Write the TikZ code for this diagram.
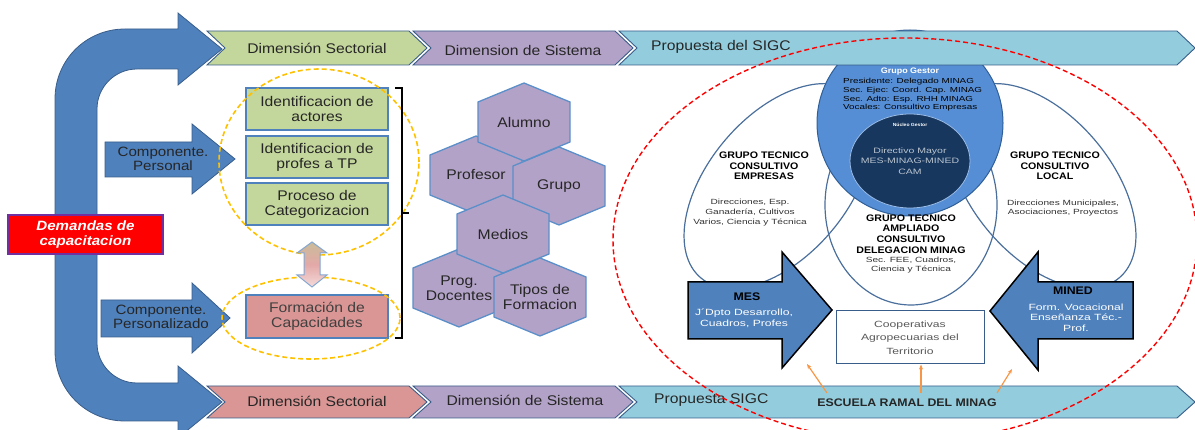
\documentclass[tikz,border=0pt]{standalone}
\usepackage{fontspec}
\setmainfont{Liberation Sans}[FakeStretch=1.12]
\newfontfamily\widefont{Liberation Sans}[FakeStretch=1.35]
\usetikzlibrary{shapes.geometric,arrows.meta}
\definecolor{arrblue}{HTML}{4F81BD}
\definecolor{arrborder}{HTML}{385D8A}
\definecolor{bgreen}{HTML}{C3D69B}
\definecolor{bpurple}{HTML}{B3A2C7}
\definecolor{bcyan}{HTML}{93CDDD}
\definecolor{bpink}{HTML}{D99694}
\definecolor{gestorc}{HTML}{558ED5}
\definecolor{gborder}{HTML}{2F5F98}
\definecolor{navyc}{HTML}{17375E}
\definecolor{vennc}{HTML}{4A6F9C}
\definecolor{ydash}{HTML}{FFC000}
\definecolor{rdash}{HTML}{FF0000}
\definecolor{orangeA}{HTML}{F79646}
\definecolor{dbox}{HTML}{7030A0}
\definecolor{hexborder}{HTML}{5B8FC9}
\definecolor{dtan}{HTML}{C9BC98}
\definecolor{dpinkm}{HTML}{E3A9A8}
\definecolor{dpinkb}{HTML}{F4DADA}
\newcommand\fs[2]{\fontsize{#1}{#2}\selectfont}
\newcommand\chevpath[5]{\path[#1] (#2,#4) -- (#3,#4) -- ({#3+18},{(#4+#5)/2}) -- (#3,#5) -- (#2,#5) -- ({#2+18},{(#4+#5)/2}) -- cycle;}
\newcommand\hexcell[4]{\path[hexa] ({#2-46},{#3-20}) -- (#2,{#3-39}) -- ({#2+46},{#3-20}) -- ({#2+46},{#3+20}) -- (#2,{#3+39}) -- ({#2-46},{#3+20}) -- cycle;
  \node[hextext] (#1) at (#2,#3) {#4};}
\begin{document}
\begin{tikzpicture}[x=1pt,y=-1pt,
  banner/.style={draw=arrborder,line width=0.9pt},
  btext/.style={font=\fs{14}{16},text=black!85,inner sep=0pt},
  bigarrow/.style={fill=arrblue,draw=arrborder,line width=0.8pt},
  comptext/.style={font=\fs{13.5}{14},align=center,text=black!85,inner sep=0pt},
  gbox/.style={draw=arrblue,line width=1.5pt,fill=bgreen,minimum width=142pt,minimum height=42pt,align=center,font=\fs{14}{15},text=black!85,inner sep=0pt},
  hexa/.style={fill=bpurple,draw=hexborder,line width=1.3pt},
  hextext/.style={font=\fs{14}{15},align=center,text=black!85,inner sep=0pt},
  ydashed/.style={draw=ydash,line width=1.6pt,dash pattern=on 5pt off 3pt},
  vennE/.style={ellipse,draw=vennc,line width=1.2pt,inner sep=0pt},
  vhead/.style={font=\bfseries\fs{9.5}{10.7},align=center,text=black,inner sep=0pt},
  vdesc/.style={font=\widefont\fs{7.5}{9.7},align=center,text=black!80,inner sep=0pt},
  bluearrow/.style={fill=arrblue,draw=black,line width=1.5pt},
  wtext/.style={font=\widefont\fs{9}{10.5},align=center,text=white,inner sep=0pt},
  oarrow/.style={draw=orangeA,line width=1.2pt,-{Stealth[length=5pt,width=4pt]}}
]
\useasboundingbox (0,0) rectangle (1195,430);

% ---------- Venn group (behind top banner) ----------
\node[vennE,minimum width=240pt,minimum height=140pt,rotate=50] (empresas) at (778,186) {};
\node[vennE,minimum width=240pt,minimum height=140pt,rotate=-50] (local) at (1042,186) {};
\node[vennE,minimum width=172pt,minimum height=200pt] (ampliado) at (911,205) {};
\node[circle,draw=gborder,fill=gestorc,line width=1pt,minimum size=186pt,inner sep=0pt] (gestor) at (910,123) {};
\node[ellipse,fill=navyc,draw=gestorc!60!white,line width=0.8pt,minimum width=120pt,minimum height=94pt,inner sep=0pt] (nucleo) at (910,161) {};

\node[font=\bfseries\fs{8}{9},text=white,inner sep=0pt] (ggtitle) at (910,72) {Grupo Gestor};
\node[font=\widefont\fs{7.3}{8.6},align=left,anchor=west,inner sep=0pt,text=black] (gglist) at (843,95)
  {Presidente: Delegado MINAG\\Sec. Ejec: Coord. Cap. MINAG\\Sec. Adto: Esp. RHH MINAG\\Vocales: Consultivo Empresas};
\node[font=\bfseries\fs{4.5}{5},text=white,inner sep=0pt] (nuctitle) at (910,125) {Núcleo Gestor};
\node[font=\widefont\fs{7.8}{10.5},align=center,text=white!70!navyc,inner sep=0pt] (nuctext) at (910,161)
  {Directivo Mayor\\MES-MINAG-MINED\\CAM};

\node[vhead] (empt) at (764,166) {GRUPO TECNICO\\CONSULTIVO\\EMPRESAS};
\node[vdesc] (empd) at (750,212.5) {Direcciones, Esp.\\Ganadería, Cultivos\\Varios, Ciencia y Técnica};
\node[vhead] (loct) at (1055,166) {GRUPO TECNICO\\CONSULTIVO\\LOCAL};
\node[vdesc] (locd) at (1063,208) {Direcciones Municipales,\\Asociaciones, Proyectos};
\node[vhead] (ampt) at (911,234) {GRUPO TECNICO\\AMPLIADO\\CONSULTIVO\\DELEGACION MINAG};
\node[vdesc] (ampd) at (911,265) {Sec. FEE, Cuadros,\\Ciencia y Técnica};

% MES / MINED arrows
\path[bluearrow] (688,282) -- (782,282) -- (782,252) -- (832,310) -- (782,368) -- (782,339) -- (688,339) -- cycle;
\node[font=\bfseries\fs{11}{12},inner sep=0pt] (mes) at (747,297) {MES};
\node[wtext] (mesd) at (744,318.5) {J´Dpto Desarrollo,\\Cuadros, Profes};
\path[bluearrow] (1133,282) -- (1038,282) -- (1038,252) -- (990,311) -- (1038,370) -- (1038,339) -- (1133,339) -- cycle;
\node[font=\bfseries\fs{11}{12},inner sep=0pt] (mined) at (1073,291) {MINED};
\node[wtext] (minedd) at (1076,317.5) {Form. Vocacional\\Enseñanza Téc.-\\Prof.};

\node[draw=arrborder,fill=white,line width=1pt,minimum width=148pt,minimum height=53pt,align=center,
  font=\widefont\fs{9}{13.5},text=black!65,inner sep=0pt] (coop) at (910,337.5)
  {Cooperativas\\Agropecuarias del\\Territorio};

% ---------- big U arrow ----------
\path[bigarrow] (222,49) -- (178,13) -- (178,29) -- (125,29) .. controls (86,29) and (55,60) .. (55,99)
  -- (55,351) .. controls (55,390) and (86,421) .. (125,421) -- (178,421) -- (178,438) -- (222,402)
  -- (178,366) -- (178,383) -- (137,383) .. controls (115,383) and (97,365) .. (97,343)
  -- (97,109) .. controls (97,87) and (115,69) .. (137,69) -- (178,69) -- (178,85) -- cycle;

% ---------- banners ----------
\chevpath{banner,fill=bgreen}{207}{409}{31}{65}
\chevpath{banner,fill=bpurple}{413}{615}{31}{65}
\chevpath{banner,fill=bcyan}{619}{1177}{31}{65}
\node[btext] (t1) at (317,48) {Dimensión Sectorial};
\node[btext] (t2) at (523,50) {Dimension de Sistema};
\node[btext,anchor=west] (t3) at (651,47) {Propuesta del SIGC};

\chevpath{banner,fill=bpink}{207}{409}{386}{418}
\chevpath{banner,fill=bpurple}{413}{615}{386}{418}
\chevpath{banner,fill=bcyan}{619}{1177}{386}{418}
\node[btext] (b1) at (317,401) {Dimensión Sectorial};
\node[btext] (b2) at (525,400) {Dimensión de Sistema};
\node[btext,anchor=west] (b3) at (654,400) {Propuesta SIGC};
\node[font=\bfseries\fs{11}{12},text=black!85,inner sep=0pt] (escuela) at (907,403) {ESCUELA RAMAL DEL MINAG};

% orange arrows
\coordinate (oa1) at (827,393); \coordinate (oa1e) at (807,364);
\coordinate (oa2) at (921,393);
\coordinate (oa3) at (997,393); \coordinate (oa3e) at (1012,369);
\draw[oarrow] (oa1) -- (oa1e);
\draw[oarrow] (oa2) -- (oa2 |- coop.south);
\draw[oarrow] (oa3) -- (oa3e);

% ---------- left column ----------
\node[draw=dbox,fill=red,line width=1.5pt,minimum width=155pt,minimum height=39pt,align=center,
  font=\bfseries\itshape\fs{13.5}{15},text=white,inner sep=0pt] (dem) at (85.5,234.5) {Demandas de\\capacitacion};

\path[bigarrow] (105,142) -- (192,142) -- (192,124) -- (235,159) -- (192,194) -- (192,177) -- (105,177) -- cycle;
\node[comptext] (cp1) at (163,158.5) {Componente.\\Personal};
\path[bigarrow] (101,300) -- (192,300) -- (192,283) -- (230,318) -- (192,353) -- (192,337) -- (101,337) -- cycle;
\node[comptext] (cp2) at (161,317) {Componente.\\Personalizado};

\node[gbox] (g1) at (317,109) {Identificacion de\\actores};
\node[gbox] (g2) at (317,157) {Identificacion de\\profes a TP};
\node[gbox] (g3) at (317,204) {Proceso de\\Categorizacion};
\node[gbox,fill=bpink,minimum height=43pt,text=black!75] (fc) at (317,316.5) {Formación de\\Capacidades};

\node[ellipse,ydashed,minimum width=200pt,minimum height=186pt] (ye1) at (319,162) {};
\node[ellipse,ydashed,minimum width=178pt,minimum height=82pt] (ye2) at (311,318) {};

\path[top color=dtan,bottom color=dpinkb,middle color=dpinkm,
  draw=arrblue!70!white,line width=1pt]
  (312,242) -- (327,253) -- (320,253) -- (320,275) -- (327,275) -- (312,287) -- (297,275) -- (304,275)
  -- (304,253) -- (297,253) -- cycle;

\draw[line width=1.5pt] (395,88) -- (402,88) -- (402,338) -- (395,338);
\draw[line width=1.5pt] (402,213) -- (409,213);

% ---------- hexagons ----------
\hexcell{prog}{459}{288}{Prog.\\Docentes}
\hexcell{tipos}{540}{297}{Tipos de\\Formacion}
\hexcell{profesor}{476}{175}{Profesor}
\hexcell{grupo}{559}{186}{Grupo}
\hexcell{alumno}{524}{122}{Alumno}
\hexcell{medios}{503}{234}{Medios}

% ---------- red dashed ellipse ----------
\node[ellipse,draw=rdash,line width=1.4pt,dash pattern=on 5pt off 3pt,minimum width=584pt,minimum height=404pt,inner sep=0pt] (sigc) at (905,240) {};
\end{tikzpicture}
\end{document}
